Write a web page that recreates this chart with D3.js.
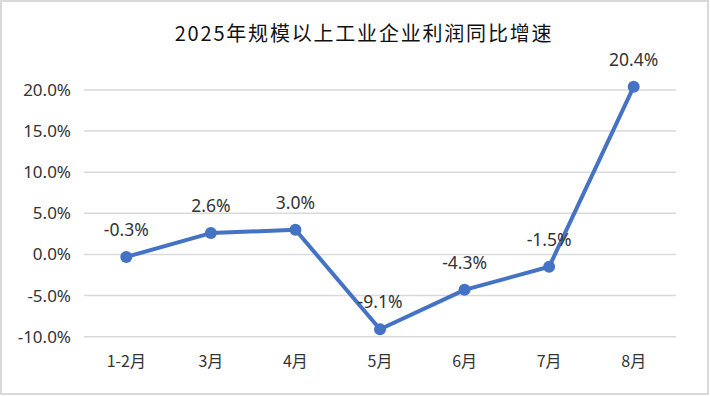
<!DOCTYPE html>
<html><head><meta charset="utf-8">
<script src="https://cdn.jsdelivr.net/npm/d3@7"></script>
<style>
html,body{margin:0;padding:0;background:#fff;}
svg{display:block;}
</style></head>
<body>
<svg id="chart" width="710" height="396"></svg>
<script>
const title = "2025年规模以上工业企业利润同比增速";
const categories = ["1-2月","3月","4月","5月","6月","7月","8月"];
const values = [-0.3, 2.6, 3.0, -9.1, -4.3, -1.5, 20.4];
const yTicks = [-10, -5, 0, 5, 10, 15, 20];

(function(){
const svg = d3.select("#chart");
const W = 710, H = 396;
const mLeft = 84, mRight = 676, mTop = 90, mBottom = 336.7;
const font = "'Noto Sans', 'Noto Sans CJK SC', sans-serif";
const textColor = "#333";

svg.append("rect").attr("x",1).attr("y",1).attr("width",W-3).attr("height",H-3)
  .attr("fill","#fff").attr("stroke","#d9d9d9").attr("stroke-width",2);

const x = d3.scaleBand().domain(categories).range([mLeft,mRight]);
const y = d3.scaleLinear().domain([-10,20]).range([mBottom,mTop]);

svg.append("g").selectAll("line").data(yTicks).join("line")
  .attr("x1",mLeft).attr("x2",mRight)
  .attr("y1",d=>y(d)).attr("y2",d=>y(d))
  .attr("stroke","#d9d9d9").attr("stroke-width",1.5);

const yAxis = d3.axisLeft(y).tickValues(yTicks).tickFormat(d=>d.toFixed(1)+"%").tickSize(0).tickPadding(13);
const gy = svg.append("g").attr("transform",`translate(${mLeft},0)`).call(yAxis);
gy.select(".domain").remove();
gy.selectAll("text").attr("font-family",font).attr("font-size",17).attr("fill",textColor);

const xAxis = d3.axisBottom(x).tickSize(0).tickPadding(0);
const gx = svg.append("g").attr("transform",`translate(0,${mBottom})`).call(xAxis);
gx.select(".domain").remove();
gx.selectAll("text").attr("font-family","'Noto Sans CJK SC', sans-serif").attr("font-size",16).attr("fill",textColor)
  .attr("dy",null).attr("y",30);

const cx = d => x(d) + x.bandwidth()/2;
const pts = categories.map((c,i)=>({c, v: values[i]}));

svg.append("path").datum(pts)
  .attr("fill","none").attr("stroke","#4472C4").attr("stroke-width",4).attr("stroke-linejoin","round")
  .attr("d", d3.line().x(d=>cx(d.c)).y(d=>y(d.v)));

svg.append("g").selectAll("circle").data(pts).join("circle")
  .attr("cx",d=>cx(d.c)).attr("cy",d=>y(d.v)).attr("r",6).attr("fill","#4472C4");

svg.append("g").selectAll("text").data(pts).join("text")
  .attr("x",d=>cx(d.c)).attr("y",d=>y(d.v)-21)
  .attr("text-anchor","middle").attr("font-family",font).attr("font-size",17.5).attr("fill",textColor)
  .text(d=>d.v.toFixed(1)+"%");

svg.append("text").attr("x",364).attr("y",41).attr("text-anchor","middle")
  .attr("font-family","'Noto Sans CJK SC', sans-serif").attr("font-size",20).attr("letter-spacing",1.8).attr("fill","#111")
  .text(title);
})();
</script>
</body></html>
